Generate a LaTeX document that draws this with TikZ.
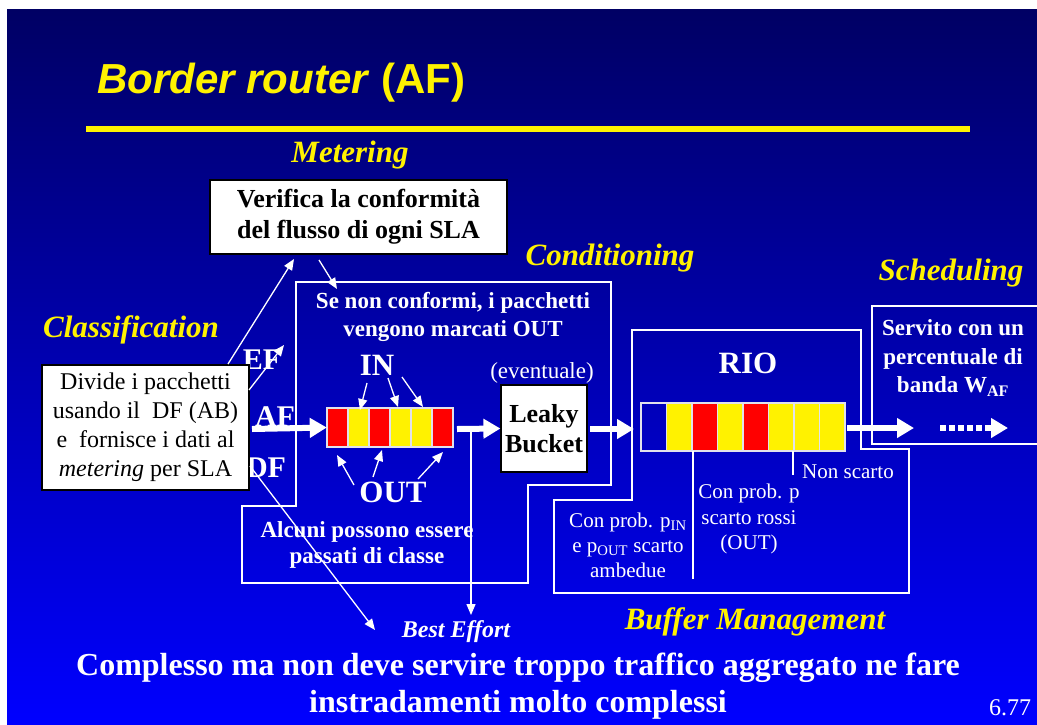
\documentclass[tikz,border=0pt]{standalone}
\usepackage{fontspec}
\setmainfont{Liberation Serif}
\newfontfamily\arialf{Liberation Sans}
\usetikzlibrary{arrows.meta}
\newcommand\myfs[2]{\fontsize{#1}{#2}\selectfont}
\definecolor{navytop}{RGB}{0,0,100}
\definecolor{bluebot}{RGB}{0,0,255}
\definecolor{cellline}{RGB}{225,225,235}
\begin{document}
\begin{tikzpicture}[x=1pt,y=-1pt,
  thinarr/.style={white, line width=1.3pt, -{Triangle[length=11pt,width=9pt]}},
  thickarr/.style={white, line width=6pt, -{Triangle[length=17pt,width=19pt]}},
  wbox/.style={draw=black, fill=white, line width=1.2pt, inner sep=0pt, align=center, text=black},
  ylbl/.style={inner sep=0pt, text=yellow, font=\bfseries\itshape\myfs{31}{36}},
  wlbl/.style={inner sep=0pt, text=white, align=center},
  outline/.style={draw=white, line width=1.6pt},
  cell/.style={draw=cellline, line width=1.6pt}
]
\useasboundingbox (0,0) rectangle (1037,724);
\shade[top color=navytop, bottom color=bluebot] (7,9) rectangle (1037,724);

% title
\node[anchor=base west, inner sep=0pt, text=yellow, font=\arialf\bfseries\myfs{42}{50}] (title) at (97,93) {\textit{Border router} (AF)};
\draw[yellow, line width=6pt] (86,129) -- (970,129);

% section labels
\node[ylbl] (metL) at (350,155) {Metering};
\node[ylbl] (condL) at (610,258) {Conditioning};
\node[ylbl] (classL) at (131,330) {Classification};
\node[ylbl] (schedL) at (951,273) {Scheduling};
\node[ylbl] (bufL) at (755,622) {Buffer Management};

% outlines
\draw[outline] (296,282) -- (611,282) -- (611,485) -- (528,485) -- (528,583) -- (242,583) -- (242,506) -- (296,506) -- cycle;
\draw[outline] (632,330) -- (861,330) -- (861,449) -- (909,449) -- (909,593) -- (554,593) -- (554,500) -- (632,500) -- cycle;
\draw[outline] (1040,306) -- (872,306) -- (872,444) -- (1040,444);

% metering box
\node[wbox, minimum width=297pt, minimum height=74pt, font=\bfseries\myfs{26}{31}] (metbox) at (358.5,217) {Verifica la conformità\\del flusso di ogni SLA};

% EF AF DF labels
\node[wlbl, font=\bfseries\myfs{30}{34}] (ef) at (262,360) {EF};
\node[wlbl, font=\bfseries\myfs{30}{34}] (af) at (275,417) {AF};
\node[wlbl, font=\bfseries\myfs{30}{34}] (df) at (266,468) {DF};

% classification box
\node[wbox, minimum width=207pt, minimum height=125pt, font=\myfs{24}{29}] (classbox) at (145.5,427.5) {Divide i pacchetti\\usando il~ DF (AB)\\e~ fornisce i dati al\\\textit{metering} per SLA};

% conditioning texts
\node[wlbl, font=\bfseries\myfs{23}{28}] (condtxt) at (453,317) {Se non conformi, i pacchetti\\vengono marcati OUT};
\node[wlbl, font=\bfseries\myfs{31}{36}] (inL) at (377,365) {IN};
\node[wlbl, font=\bfseries\myfs{31}{36}] (outL) at (393,492) {OUT};
\node[wlbl, font=\bfseries\myfs{23}{26}] (alcuni) at (367,545) {Alcuni possono essere\\passati di classe};

% queue 1
\node[inner sep=0pt, minimum width=126pt, minimum height=39pt] (q1) at (390,427.5) {};
\foreach \c [count=\i from 0] in {red,yellow,red,yellow,yellow,red} {
  \fill[fill=\c] (327+21*\i,408) rectangle (348+21*\i,447);
}
\foreach \i in {0,...,5} {
  \draw[cell] (327+21*\i,408) rectangle (348+21*\i,447);
}

% leaky bucket
\node[wlbl, font=\myfs{23}{27}] (event) at (542,373) {(eventuale)};
\node[wbox, minimum width=86pt, minimum height=87pt, font=\bfseries\myfs{26}{30}] (lb) at (544,428.5) {Leaky\\Bucket};

% RIO
\node[wlbl, font=\bfseries\myfs{31}{36}] (rioL) at (748,363) {RIO};
\node[inner sep=0pt, minimum width=204pt, minimum height=48pt] (q2) at (743,427) {};
\foreach \c [count=\i from 1] in {yellow,red,yellow,red,yellow,yellow,yellow} {
  \fill[fill=\c] (641+25.5*\i,403) rectangle (666.5+25.5*\i,451);
}
\foreach \i in {0,...,7} {
  \draw[cell] (641+25.5*\i,403) rectangle (666.5+25.5*\i,451);
}
\coordinate (t1) at (693,451); \coordinate (t1e) at (693,579);
\coordinate (t2) at (793,451); \coordinate (t2e) at (793,475);
\draw[white, line width=1.2pt] (t1) -- (t1e);
\draw[white, line width=1.2pt] (t2) -- (t2e);
\node[wlbl, font=\myfs{21}{25}] (nonsc) at (848,472) {Non scarto};
\node[wlbl, font=\myfs{21}{25.5}] (pr) at (749,519) {Con prob. p\\scarto rossi\\(OUT)};
\node[wlbl, font=\myfs{21}{25}] (pb) at (628,545) {Con prob. p\textsubscript{IN}\\e p\textsubscript{OUT} scarto\\ambedue};

% scheduling
\node[wlbl, font=\bfseries\myfs{23}{28.5}] (serv) at (953,358) {Servito con un\\percentuale di\\banda W\textsubscript{AF}};

% bottom texts
\node[wlbl, font=\bfseries\itshape\myfs{24}{28}] (be) at (456,632) {Best Effort};
\node[wlbl, font=\bfseries\myfs{32}{37}] (bottom) at (518,686) {Complesso ma non deve servire troppo traffico aggregato ne fare\\instradamenti molto complessi};
\node[wlbl, font=\myfs{24}{28}] (pg) at (1010,708) {6.77};

% connectors
\coordinate (a1s) at (228,364); \coordinate (a1e) at (294,259);
\draw[thinarr] (a1s) -- (a1e);
\coordinate (efs) at (249,390); \coordinate (efe) at (284,345);
\draw[thinarr] (efs) -- (efe);
\coordinate (afs) at (252,429);
\draw[thickarr] (afs) -- (q1.west);
\coordinate (dfs) at (250,466); \coordinate (dfe) at (375,630);
\draw[thinarr] (dfs) -- (dfe);
\coordinate (m1s) at (319,260); \coordinate (m1e) at (337,289);
\draw[thinarr] (m1s) -- (m1e);

\coordinate (in1s) at (367,383); \coordinate (in1e) at (360,410);
\coordinate (in2s) at (388,378); \coordinate (in2e) at (398,407);
\coordinate (in3s) at (402,377); \coordinate (in3e) at (423,407);
\draw[thinarr] (in1s) -- (in1e);
\draw[thinarr] (in2s) -- (in2e);
\draw[thinarr] (in3s) -- (in3e);
\coordinate (o1s) at (354,485); \coordinate (o1e) at (337,455);
\coordinate (o2s) at (373,477); \coordinate (o2e) at (382,450);
\coordinate (o3s) at (418,479); \coordinate (o3e) at (443,452);
\draw[thinarr] (o1s) -- (o1e);
\draw[thinarr] (o2s) -- (o2e);
\draw[thinarr] (o3s) -- (o3e);

\coordinate (q1o) at (457,429);
\draw[thickarr] (q1o) -- (lb.west);
\coordinate (vs) at (471,431); \coordinate (ve) at (471,615);
\draw[thinarr] (vs) -- (ve);
\coordinate (lbo) at (590,429); \coordinate (rioin) at (634,429);
\draw[thickarr] (lbo) -- (rioin);
\coordinate (q2o) at (847,428); \coordinate (sch1) at (914,428);
\draw[thickarr] (q2o) -- (sch1);
\coordinate (d1) at (940,428); \coordinate (d2) at (1008,428);
\draw[thickarr, dash pattern=on 6pt off 3pt] (d1) -- (d2);
\end{tikzpicture}
\end{document}
